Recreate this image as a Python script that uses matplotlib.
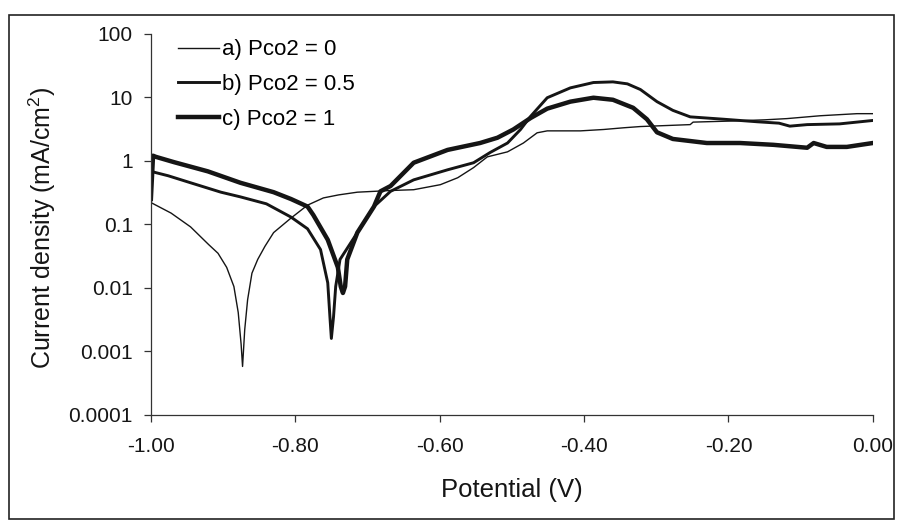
import matplotlib
matplotlib.use("Agg")
import matplotlib.pyplot as plt
from matplotlib.patches import Rectangle
from matplotlib.ticker import FuncFormatter, NullLocator

plt.rcParams['font.family'] = ['Liberation Sans', 'DejaVu Sans']
plt.rcParams['mathtext.fontset'] = 'custom'
plt.rcParams['mathtext.rm'] = 'Liberation Sans'
plt.rcParams['mathtext.it'] = 'Liberation Sans:italic'

# potential (V) and current density (mA/cm2)
pot_a = [-1.000, -0.972, -0.945, -0.920, -0.907, -0.895, -0.885, -0.879, -0.875,
         -0.873, -0.870, -0.866, -0.860, -0.852, -0.842, -0.830, -0.806, -0.783,
         -0.761, -0.740, -0.714, -0.668, -0.636, -0.599, -0.575, -0.553, -0.534,
         -0.506, -0.484, -0.465, -0.451, -0.405, -0.373, -0.345, -0.322, -0.253,
         -0.249, -0.200, -0.150, -0.119, -0.073, -0.022, 0.000]
cur_a = [0.22, 0.15, 0.091, 0.048, 0.035, 0.021, 0.0105, 0.0041, 0.0013,
         0.00058, 0.0022, 0.0065, 0.017, 0.028, 0.045, 0.074, 0.125, 0.20,
         0.26, 0.29, 0.32, 0.34, 0.35, 0.42, 0.54, 0.78, 1.15,
         1.38, 1.9, 2.75, 2.95, 2.95, 3.1, 3.3, 3.45, 3.7,
         4.05, 4.2, 4.4, 4.6, 5.1, 5.5, 5.5]

pot_b = [-1.000, -0.976, -0.945, -0.903, -0.876, -0.840, -0.806, -0.783, -0.765,
         -0.755, -0.752, -0.750, -0.747, -0.744, -0.738, -0.714, -0.691, -0.668,
         -0.636, -0.589, -0.553, -0.530, -0.506, -0.488, -0.474, -0.451, -0.419,
         -0.387, -0.360, -0.340, -0.322, -0.299, -0.277, -0.253, -0.207, -0.160,
         -0.130, -0.115, -0.091, -0.046, 0.000]
cur_b = [0.68, 0.58, 0.45, 0.32, 0.27, 0.21, 0.13, 0.085, 0.040,
         0.012, 0.0035, 0.0016, 0.0035, 0.0105, 0.028, 0.074, 0.19, 0.33,
         0.50, 0.72, 0.93, 1.35, 1.9, 3.1, 5.0, 9.8, 14,
         17, 17.4, 16.2, 13.2, 8.5, 6.2, 4.9, 4.5, 4.1,
         3.9, 3.5, 3.7, 3.8, 4.3]

pot_c = [-1.000, -0.997, -0.993, -0.968, -0.921, -0.876, -0.830, -0.806, -0.783,
         -0.775, -0.755, -0.741, -0.737, -0.734, -0.731, -0.728, -0.714, -0.691,
         -0.682, -0.668, -0.636, -0.589, -0.544, -0.520, -0.498, -0.474, -0.451,
         -0.419, -0.387, -0.360, -0.332, -0.313, -0.299, -0.277, -0.230, -0.184,
         -0.138, -0.091, -0.082, -0.064, -0.036, 0.000]
cur_c = [0.25, 1.2, 1.15, 0.95, 0.68, 0.45, 0.32, 0.25, 0.19,
         0.14, 0.057, 0.021, 0.0105, 0.0083, 0.0105, 0.028, 0.074, 0.19,
         0.33, 0.40, 0.93, 1.48, 1.9, 2.3, 3.1, 4.7, 6.6,
         8.5, 9.8, 9.1, 6.8, 4.5, 2.8, 2.2, 1.9, 1.9,
         1.78, 1.6, 1.9, 1.65, 1.65, 1.9]

labels = ['a) Pco2 = 0', 'b) Pco2 = 0.5', 'c) Pco2 = 1']
x_ticks = [-1.0, -0.8, -0.6, -0.4, -0.2, 0.0]
y_ticks = [1e-4, 1e-3, 1e-2, 1e-1, 1, 10, 100]
y_tick_labels = ['0.0001', '0.001', '0.01', '0.1', '1', '10', '100']

fig = plt.figure(figsize=(8.98, 5.21), dpi=100)
ax = fig.add_axes([0.168, 0.2035, 0.804, 0.732])

ink = '#151515'
ax.plot(pot_a, cur_a, color=ink, lw=1.0, label=labels[0])
ax.plot(pot_b, cur_b, color=ink, lw=2.1, label=labels[1])
ax.plot(pot_c, cur_c, color=ink, lw=3.2, label=labels[2])

ax.set_yscale('log')
ax.set_xlim(-1.0, 0.0)
ax.set_ylim(1e-4, 100)
ax.set_xticks(x_ticks)
ax.xaxis.set_major_formatter(FuncFormatter(lambda v, p: f"{v:.2f}"))
ax.set_yticks(y_ticks)
ax.set_yticklabels(y_tick_labels)
ax.yaxis.set_minor_locator(NullLocator())

for side in ['top', 'right']:
    ax.spines[side].set_visible(False)
for side in ['left', 'bottom']:
    ax.spines[side].set_linewidth(0.9)
    ax.spines[side].set_color('#333333')
ax.tick_params(axis='both', which='major', direction='out', length=5,
               width=0.9, color='#333333', labelsize=15, labelcolor=ink)
ax.tick_params(axis='y', pad=8)
ax.tick_params(axis='x', pad=11)

ax.set_xlabel('Potential (V)', fontsize=18.5, color=ink)
ax.set_ylabel('Current density (mA/cm$^\\mathregular{2}$)', fontsize=18, color=ink)
ax.xaxis.set_label_coords(0.5, -0.165)
ax.yaxis.set_label_coords(-0.128, 0.49)

ax.legend(loc='upper left', bbox_to_anchor=(0.037, 0.985), frameon=False,
          fontsize=16, handlelength=1.85, handletextpad=0.15,
          labelspacing=0.62, borderpad=0, borderaxespad=0)

fig.add_artist(Rectangle((0.010, 0.004), 0.9855, 0.967, transform=fig.transFigure,
                         fill=False, lw=1.2, edgecolor='#222222'))

fig.savefig('out.png', dpi=100)
